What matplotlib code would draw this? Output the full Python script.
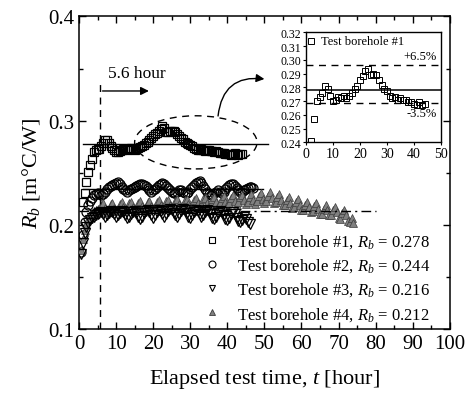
import numpy as np
import matplotlib
matplotlib.use('Agg')
import matplotlib.pyplot as plt
from matplotlib.patches import Ellipse
from matplotlib.lines import Line2D

plt.rcParams['font.family'] = ['Liberation Serif', 'DejaVu Serif']
plt.rcParams['mathtext.fontset'] = 'custom'
plt.rcParams['mathtext.rm'] = 'Liberation Serif'
plt.rcParams['mathtext.it'] = 'Liberation Serif:italic'

# ---------------- data ----------------
t1 = np.arange(1.0, 44.01, 0.5)
rb1 = [0.222, 0.231, 0.241, 0.251, 0.257, 0.263, 0.270, 0.272, 0.273, 0.273,
       0.276, 0.279, 0.281, 0.281, 0.279, 0.276, 0.274, 0.272, 0.270, 0.270,
       0.271, 0.272, 0.273, 0.273, 0.272, 0.273, 0.274, 0.273, 0.272, 0.273,
       0.274, 0.275, 0.276, 0.277, 0.279, 0.280, 0.281, 0.283, 0.285, 0.287,
       0.288, 0.290, 0.292, 0.295, 0.293, 0.289, 0.289, 0.290, 0.290, 0.290,
       0.289, 0.287, 0.285, 0.283, 0.282, 0.280, 0.279, 0.278, 0.277, 0.276,
       0.274, 0.273, 0.272, 0.272, 0.273, 0.272, 0.271, 0.272, 0.272, 0.271,
       0.271, 0.270, 0.271, 0.270, 0.269, 0.269, 0.269, 0.268, 0.268, 0.268,
       0.267, 0.268, 0.269, 0.268, 0.267, 0.268, 0.268]

t2 = np.arange(0.5, 47.01, 0.5)
rb2 = [0.174, 0.190, 0.203, 0.212, 0.219, 0.223, 0.226, 0.229, 0.230, 0.231,
       0.230, 0.229, 0.230, 0.232, 0.234, 0.236, 0.237, 0.238, 0.239, 0.240,
       0.241, 0.239, 0.236, 0.234, 0.233, 0.232, 0.233, 0.234, 0.235, 0.236,
       0.237, 0.238, 0.239, 0.239, 0.238, 0.237, 0.235, 0.233, 0.232, 0.233,
       0.234, 0.236, 0.238, 0.239, 0.240, 0.239, 0.237, 0.235, 0.233, 0.232,
       0.231, 0.231, 0.232, 0.233, 0.233, 0.232, 0.231, 0.231, 0.232, 0.234,
       0.236, 0.238, 0.240, 0.241, 0.242, 0.240, 0.237, 0.234, 0.232, 0.230,
       0.229, 0.230, 0.231, 0.232, 0.233, 0.232, 0.231, 0.232, 0.234, 0.236,
       0.238, 0.239, 0.239, 0.237, 0.235, 0.233, 0.232, 0.232, 0.233, 0.234,
       0.235, 0.236, 0.236, 0.235]

t3 = np.arange(0.5, 46.01, 0.5)
rb3 = [0.172, 0.183, 0.192, 0.198, 0.202, 0.205, 0.207, 0.208, 0.209, 0.210,
       0.211, 0.212, 0.210, 0.208, 0.209, 0.211, 0.213, 0.212, 0.210, 0.208,
       0.209, 0.211, 0.213, 0.212, 0.209, 0.207, 0.208, 0.210, 0.212, 0.213,
       0.211, 0.208, 0.206, 0.208, 0.211, 0.213, 0.214, 0.212, 0.209, 0.207,
       0.209, 0.212, 0.214, 0.213, 0.210, 0.208, 0.210, 0.213, 0.215, 0.214,
       0.211, 0.209, 0.208, 0.210, 0.213, 0.215, 0.214, 0.211, 0.208, 0.207,
       0.209, 0.212, 0.214, 0.213, 0.210, 0.208, 0.209, 0.212, 0.214, 0.213,
       0.210, 0.207, 0.206, 0.208, 0.211, 0.213, 0.212, 0.209, 0.206, 0.205,
       0.207, 0.210, 0.212, 0.210, 0.207, 0.204, 0.203, 0.205, 0.208, 0.206,
       0.203, 0.201]

t4 = np.arange(0.5, 74.01, 0.5)
rb4 = [0.176, 0.186, 0.195, 0.201, 0.206, 0.209, 0.211, 0.213, 0.214, 0.215,
       0.214, 0.219, 0.221, 0.216, 0.212, 0.215, 0.220, 0.221, 0.216, 0.213,
       0.215, 0.220, 0.222, 0.217, 0.213, 0.216, 0.221, 0.222, 0.217, 0.214,
       0.216, 0.221, 0.223, 0.218, 0.214, 0.217, 0.222, 0.223, 0.218, 0.215,
       0.217, 0.222, 0.224, 0.219, 0.215, 0.218, 0.223, 0.224, 0.219, 0.216,
       0.218, 0.223, 0.225, 0.220, 0.216, 0.219, 0.224, 0.225, 0.220, 0.217,
       0.219, 0.224, 0.226, 0.221, 0.217, 0.220, 0.225, 0.226, 0.221, 0.218,
       0.220, 0.225, 0.227, 0.222, 0.218, 0.221, 0.226, 0.228, 0.222, 0.219,
       0.221, 0.226, 0.229, 0.223, 0.219, 0.222, 0.227, 0.229, 0.224, 0.220,
       0.222, 0.227, 0.230, 0.224, 0.220, 0.223, 0.228, 0.231, 0.225, 0.221,
       0.223, 0.228, 0.232, 0.226, 0.221, 0.222, 0.227, 0.230, 0.224, 0.219,
       0.219, 0.224, 0.227, 0.221, 0.216, 0.217, 0.222, 0.225, 0.219, 0.214,
       0.214, 0.219, 0.222, 0.217, 0.212, 0.213, 0.218, 0.221, 0.215, 0.210,
       0.210, 0.215, 0.219, 0.214, 0.209, 0.209, 0.214, 0.217, 0.212, 0.207,
       0.206, 0.211, 0.214, 0.209, 0.204, 0.203, 0.207, 0.202]

labels = ["Test borehole #1, $R_b$ = 0.278",
          "Test borehole #2, $R_b$ = 0.244",
          "Test borehole #3, $R_b$ = 0.216",
          "Test borehole #4, $R_b$ = 0.212"]

mean1 = 0.278          # solid line, borehole #1
mean1_span = (1.0, 51.0)
mean2 = 0.234          # solid line, borehole #2
mean2_span = (1.0, 49.6)
mean4 = 0.213          # dash-dot line, borehole #4
mean4_span = (0.0, 80.0)
plus_pct, minus_pct = 6.5, 3.5
t_start = 5.6

# ---------------- figure ----------------
fig = plt.figure(figsize=(4.73, 4.02), dpi=100)
ax = fig.add_axes([0.167, 0.179, 0.784, 0.7775])

ms = 6.0
gray_face, gray_edge = '#808080', '#3c3c3c'
ax.plot(t1, rb1, ls='none', marker='s', ms=ms, mfc='none', mec='black', mew=0.9, zorder=3)
ax.plot(t2, rb2, ls='none', marker='o', ms=ms + 0.5, mfc='none', mec='black', mew=0.9, zorder=3)
ax.plot(t4, rb4, ls='none', marker='^', ms=ms, mfc=gray_face, mec=gray_edge, mew=0.5, zorder=3)
ax.plot(t3, rb3, ls='none', marker='v', ms=ms + 0.5, mfc='none', mec='black', mew=0.9, zorder=3)

ax.plot(mean1_span, [mean1, mean1], color='black', lw=1.0, zorder=4)
ax.plot(mean2_span, [mean2, mean2], color='black', lw=1.0, zorder=2)
ax.plot(mean4_span, [mean4, mean4], color='black', lw=1.0, ls=(0, (7, 3, 1.5, 3)), zorder=4)

# vertical dashed line at 5.6 h
ax.plot([t_start, t_start], [0.1, 0.34], color='black', lw=1.0, ls=(0, (5, 4)), zorder=4)
ax.annotate('', xy=(19.6, 0.3285), xytext=(t_start, 0.3285),
            arrowprops=dict(arrowstyle='-|>', color='black', lw=1.0, mutation_scale=12))
ax.text(7.8, 0.346, '5.6 hour', fontsize=12.5, ha='left', va='center')

# dashed ellipse
ax.add_patch(Ellipse((31.5, 0.2792), 33.0, 0.051, fill=False, ec='black', lw=1.0,
                     ls=(0, (5, 4)), zorder=5))
ax.annotate('', xy=(50.0, 0.340), xytext=(37.5, 0.3045),
            arrowprops=dict(arrowstyle='-|>', color='black', lw=1.0, mutation_scale=12,
                            connectionstyle='arc3,rad=-0.5', shrinkA=0, shrinkB=0))

ax.set_xlim(0, 100)
ax.set_ylim(0.1, 0.4)
ax.set_xticks(np.arange(0, 101, 10))
ax.set_xticks(np.arange(0, 101, 5), minor=True)
ax.set_yticks([0.1, 0.2, 0.3, 0.4])
ax.set_yticklabels(['0.1', '0.2', '0.3', '0.4'])
ax.set_yticks(np.arange(0.1, 0.401, 0.05), minor=True)
ax.tick_params(which='both', direction='in', top=True, right=True, labelsize=15, width=1.0)
ax.tick_params(which='major', length=5)
ax.tick_params(which='minor', length=3)
for s in ax.spines.values():
    s.set_linewidth(1.1)

ax.set_xlabel('Elapsed test time, $t$ [hour]', fontsize=16, labelpad=10)
ax.set_ylabel('$R_b$ [m°C/W]', fontsize=16, labelpad=4)

handles = [
    Line2D([], [], ls='none', marker='s', ms=4.5, mfc='none', mec='black', mew=0.8),
    Line2D([], [], ls='none', marker='o', ms=5, mfc='none', mec='black', mew=0.8),
    Line2D([], [], ls='none', marker='v', ms=5, mfc='none', mec='black', mew=0.8),
    Line2D([], [], ls='none', marker='^', ms=4.5, mfc=gray_face, mec=gray_edge, mew=0.6),
]
ax.legend(handles, labels, loc='lower right', bbox_to_anchor=(0.97, -0.006), frameon=False,
          fontsize=12, handlelength=1.0, handletextpad=1.0, labelspacing=0.38, borderpad=0)

# ---------------- inset ----------------
ins = fig.add_axes([0.647, 0.6435, 0.285, 0.2736])
ins.plot(t1[::2], rb1[::2], ls='none', marker='s', ms=4.5, mfc='none', mec='black', mew=0.7,
         clip_on=True)
ins.axhline(mean1, color='black', lw=1.1)
ins.axhline(mean1 * (1 + plus_pct / 100), color='black', lw=1.0, ls=(0, (5, 4)))
ins.axhline(mean1 * (1 - minus_pct / 100), color='black', lw=1.0, ls=(0, (5, 4)))
ins.text(48.5, 0.2985, '+6.5%', fontsize=9, ha='right', va='bottom')
ins.text(48.5, 0.2655, '-3.5%', fontsize=9, ha='right', va='top')
ins.plot([1.9], [0.3139], ls='none', marker='s', ms=4, mfc='none', mec='black', mew=0.7)
ins.text(5.5, 0.3139, 'Test borehole #1', fontsize=9, ha='left', va='center')
ins.set_xlim(0, 50)
ins.set_ylim(0.24, 0.32)
ins.set_xticks(np.arange(0, 51, 10))
ins.set_yticks(np.arange(0.24, 0.3201, 0.01))
ins.set_yticklabels(['%.2f' % v for v in np.arange(0.24, 0.3201, 0.01)])
ins.tick_params(axis='x', labelsize=10, length=2.5, direction='out', pad=1)
ins.tick_params(axis='y', labelsize=8.5, length=2.5, direction='out', pad=1)
for s in ins.spines.values():
    s.set_linewidth(1.0)

fig.savefig('out.png', dpi=100)
